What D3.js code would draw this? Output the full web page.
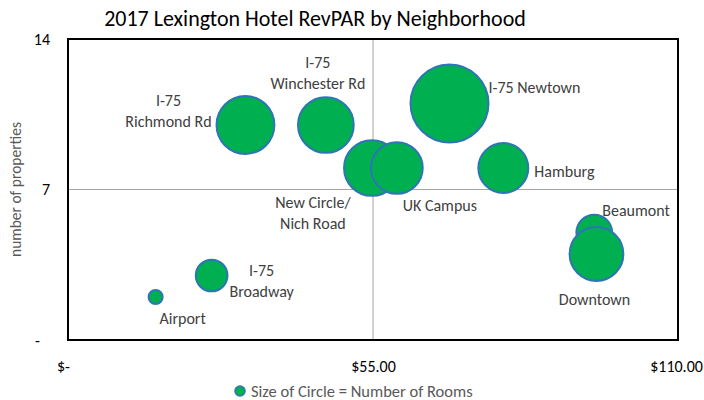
<!DOCTYPE html>
<html>
<head>
<meta charset="utf-8">
<script src="https://cdn.jsdelivr.net/npm/d3@7"></script>
<style>
  body { margin: 0; background: #fff; }
  svg { display: block; font-family: Carlito, Calibri, Lato, sans-serif; }
</style>
</head>
<body>
<svg id="chart" width="704" height="400"></svg>
<script>
// neighborhoods, RevPAR ($), number of properties, number of rooms (bubble size)
var names = ['Airport', 'I-75\nBroadway', 'I-75\nRichmond Rd', 'I-75\nWinchester Rd', 'New Circle/\nNich Road',
  'UK Campus', 'I-75 Newtown', 'Hamburg', 'Beaumont', 'Downtown']
var revpar = [15.8, 25.9, 32.0, 46.5, 54.8, 59.3, 68.8, 78.5, 94.9, 95.3]
var properties = [2, 3, 10, 10, 8, 8, 11, 8, 5, 4]
var rooms = [65, 330, 1100, 1020, 1020, 880, 2000, 820, 420, 950]
var xTicks = [0, 55, 110]
var yTicks = [0, 7, 14]

// label placement relative to bubble centre (first line centre): [dx, dy, anchor]
var labelPos = [
  [27, 21, 'middle'], [50, -6, 'middle'], [-77, -25, 'middle'], [-8, -63, 'middle'], [-59, 34, 'middle'],
  [43, 37, 'middle'], [39, -17, 'start'], [31, 3, 'start'], [8, -23, 'start'], [-2, 45, 'middle']
]

var svg = d3.select('#chart')
var pLeft = 68, pRight = 678, pTop = 39, pBottom = 340
var lineH = 21

var x = d3.scaleLinear().domain([0, 110]).range([pLeft, pRight])
var y = d3.scaleLinear().domain([0, 14]).range([pBottom, pTop])
var r = d3.scaleSqrt().domain([0, 2000]).range([0, 39])

var fmtX = v => v === 0 ? '$-' : '$' + d3.format('.2f')(v)
var fmtY = v => v === 0 ? '-' : v

// gridlines (only the middle ones)
svg.append('line')
  .attr('x1', x(55)).attr('x2', x(55)).attr('y1', pTop).attr('y2', pBottom)
  .attr('stroke', '#a6a6a6').attr('stroke-width', 1)
svg.append('line')
  .attr('x1', pLeft).attr('x2', pRight).attr('y1', y(7)).attr('y2', y(7))
  .attr('stroke', '#a6a6a6').attr('stroke-width', 1)

// axes
var xAxis = svg.append('g')
  .attr('transform', 'translate(0,' + (pBottom + 18) + ')')
  .call(d3.axisBottom(x).tickValues(xTicks).tickFormat(fmtX).tickSize(0))
var yAxis = svg.append('g')
  .attr('transform', 'translate(' + (pLeft - 18) + ',0)')
  .call(d3.axisLeft(y).tickValues(yTicks).tickFormat(fmtY).tickSize(0))
svg.selectAll('.domain').remove()
svg.selectAll('.tick text')
  .attr('font-family', 'Carlito, Calibri, Lato, sans-serif')
  .attr('font-size', 16).attr('fill', '#000')
yAxis.selectAll('.tick text').attr('x', 0)
yAxis.selectAll('.tick text').filter(d => d === 0).attr('dx', -10)
xAxis.selectAll('.tick text').filter(d => d === 0).attr('dx', -5)
xAxis.selectAll('.tick text').filter(d => d === 110).attr('dx', -2)

// plot border
svg.append('rect')
  .attr('x', pLeft).attr('y', pTop).attr('width', pRight - pLeft).attr('height', pBottom - pTop)
  .attr('fill', 'none').attr('stroke', '#000').attr('stroke-width', 2)

// bubbles
var data = names.map((n, i) => ({ name: n, x: revpar[i], y: properties[i], size: rooms[i], pos: labelPos[i] }))

svg.append('g').selectAll('circle')
  .data(data)
  .enter().append('circle')
  .attr('cx', d => x(d.x))
  .attr('cy', d => y(d.y))
  .attr('r', d => r(d.size))
  .attr('fill', '#00b050')
  .attr('stroke', '#2e75b6')
  .attr('stroke-width', 2)

var labels = svg.append('g').selectAll('text')
  .data(data)
  .enter().append('text')
  .attr('text-anchor', d => d.pos[2])
  .attr('dominant-baseline', 'central')
  .attr('font-size', 16)
  .attr('fill', '#404040')

labels.each(function(d) {
  var t = d3.select(this)
  d.name.split('\n').forEach((l, i) => {
    t.append('tspan')
      .attr('x', x(d.x) + d.pos[0])
      .attr('y', y(d.y) + d.pos[1] + i * lineH)
      .text(l)
  })
})

// title
svg.append('text')
  .attr('x', 315).attr('y', 18)
  .attr('text-anchor', 'middle')
  .attr('dominant-baseline', 'central')
  .attr('font-size', 22)
  .attr('fill', '#000')
  .text('2017 Lexington Hotel RevPAR by Neighborhood')

// y axis title
svg.append('text')
  .attr('transform', 'translate(15,' + (pTop + pBottom) / 2 + ') rotate(-90)')
  .attr('text-anchor', 'middle')
  .attr('dominant-baseline', 'central')
  .attr('font-size', 15.5)
  .attr('fill', '#595959')
  .text('number of properties')

// legend
var legend = svg.append('g').attr('transform', 'translate(240,391)')
legend.append('circle')
  .attr('r', 5)
  .attr('fill', '#00b050').attr('stroke', '#2e75b6').attr('stroke-width', 1.5)
legend.append('text')
  .attr('x', 11)
  .attr('dominant-baseline', 'central')
  .attr('font-size', 16.5)
  .attr('fill', '#595959')
  .text('Size of Circle = Number of Rooms')
</script>
</body>
</html>
